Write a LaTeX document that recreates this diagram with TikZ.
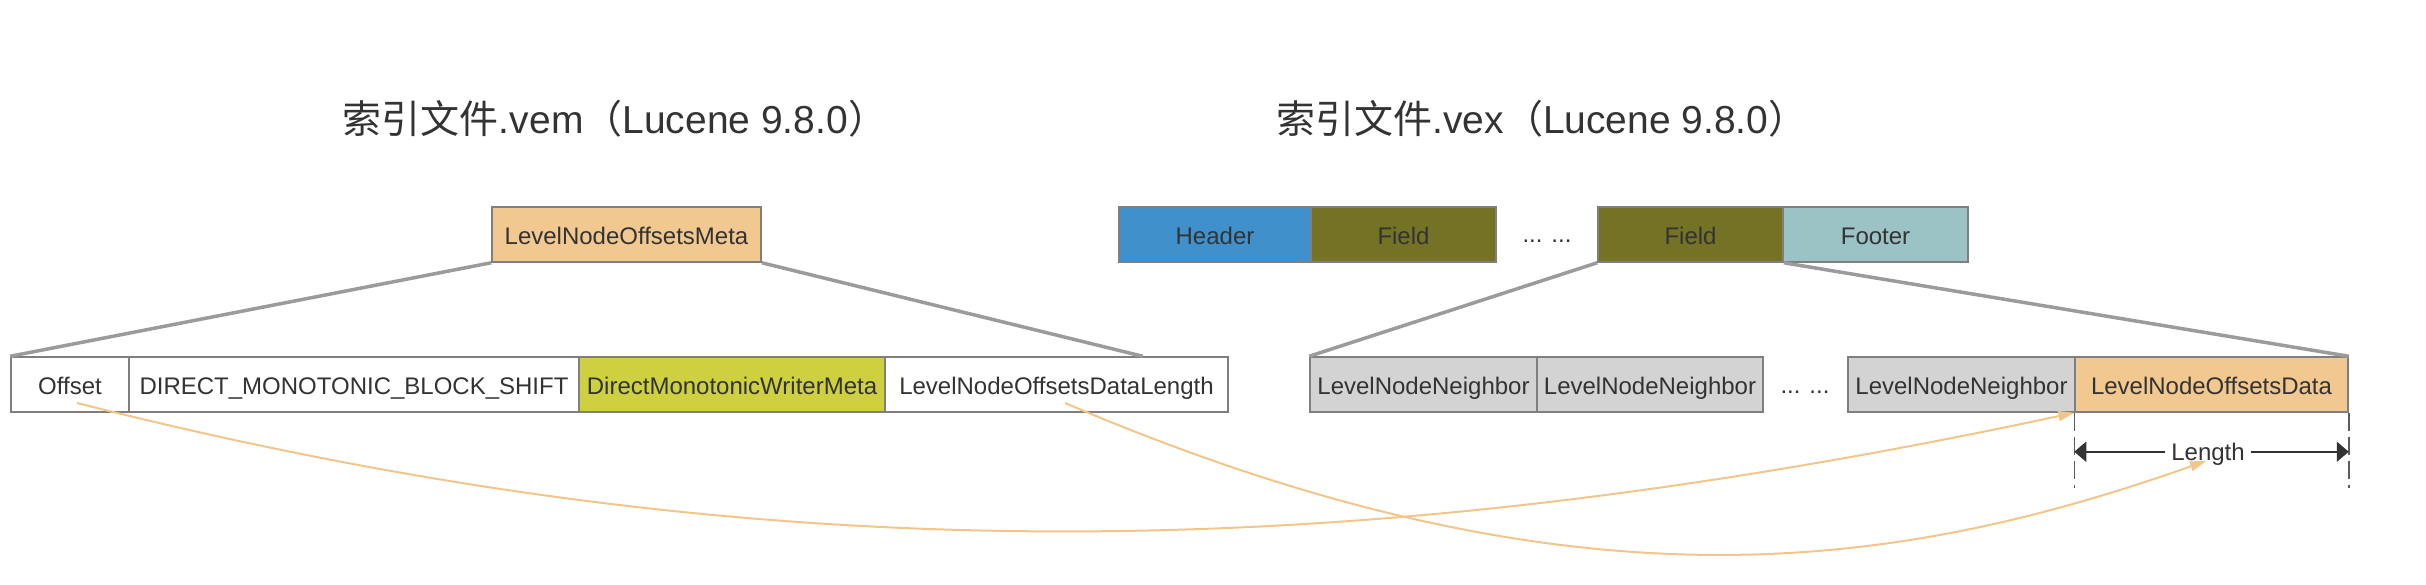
\documentclass[tikz,border=0pt]{standalone}
\usepackage{fontspec}
\setmainfont{Liberation Sans}
\newfontfamily\cjk{Noto Sans CJK SC}
\usetikzlibrary{arrows.meta,calc}
\definecolor{txt}{HTML}{333333}
\definecolor{bordergray}{HTML}{7F7F7F}
\definecolor{linkgray}{HTML}{9B9B9B}
\definecolor{orangefill}{RGB}{241,200,143}
\definecolor{limefill}{RGB}{206,208,64}
\definecolor{bluefill}{RGB}{64,144,203}
\definecolor{olivefill}{RGB}{115,114,37}
\definecolor{tealfill}{RGB}{155,195,197}
\definecolor{greyfill}{RGB}{211,211,211}
\definecolor{curveorange}{RGB}{242,198,139}
\begin{document}
\begin{tikzpicture}[x=1pt,y=-1pt,
  cell/.style={draw=bordergray,line width=1.5pt,inner sep=0pt,minimum height=55pt,
    text height=22pt,text depth=3pt,font=\fontsize{24}{28}\selectfont,text=txt},
  dotstext/.style={inner sep=0pt,anchor=base,font=\fontsize{24}{28}\selectfont,text=txt},
  titletext/.style={inner sep=0pt,anchor=base,font=\fontsize{39}{47}\selectfont,text=txt},
  zoomline/.style={draw=linkgray,line width=3.5pt},
  refcurve/.style={draw=curveorange,line width=2pt,-{Triangle[length=16pt,width=10pt]}},
  dimguide/.style={draw=txt!80,line width=1.5pt,dash pattern=on 18pt off 6pt},
  dimarrow/.style={draw=txt,line width=2pt,{Triangle[length=12pt,width=20pt]}-{Triangle[length=12pt,width=20pt]}}
]
\useasboundingbox (0,0) rectangle (2426,584);

% titles
\node[titletext] (titleA) at (615,133) {{\cjk 索引文件}.vem{\cjk （}Lucene 9.8.0{\cjk ）}};
\node[titletext] (titleB) at (1542,133) {{\cjk 索引文件}.vex{\cjk （}Lucene 9.8.0{\cjk ）}};

% top row
\node[cell,fill=orangefill,minimum width=269pt] (meta) at (626.5,234.5) {LevelNodeOffsetsMeta};
\node[cell,fill=bluefill,minimum width=192pt] (hdr) at (1215,234.5) {Header};
\node[cell,fill=olivefill,minimum width=185pt] (fldA) at (1403.5,234.5) {Field};
\node[dotstext] (dotsA) at (1547,242) {... ...};
\node[cell,fill=olivefill,minimum width=185pt] (fldB) at (1690.5,234.5) {Field};
\node[cell,fill=tealfill,minimum width=185pt] (ftr) at (1875.5,234.5) {Footer};

% bottom row
\node[cell,fill=white,minimum width=118pt] (off) at (70,384.5) {Offset};
\node[cell,fill=white,minimum width=450pt] (shift) at (354,384.5) {DIRECT\_MONOTONIC\_BLOCK\_SHIFT};
\node[cell,fill=limefill,minimum width=306pt] (dmwm) at (732,384.5) {DirectMonotonicWriterMeta};
\node[cell,fill=white,minimum width=343pt] (dlen) at (1056.5,384.5) {LevelNodeOffsetsDataLength};
\node[cell,fill=greyfill,minimum width=227pt] (lnnA) at (1423.5,384.5) {LevelNodeNeighbor};
\node[cell,fill=greyfill,minimum width=226pt] (lnnB) at (1650,384.5) {LevelNodeNeighbor};
\node[dotstext] (dotsB) at (1805,393) {... ...};
\node[cell,fill=greyfill,minimum width=227pt] (lnnC) at (1961.5,384.5) {LevelNodeNeighbor};
\node[cell,fill=orangefill,minimum width=273pt] (lnod) at (2211.5,384.5) {LevelNodeOffsetsData};

% zoom connectors
\coordinate (dlenTop) at ($(dlen.north west)!0.75!(dlen.north east)$);
\draw[zoomline] (meta.south west) -- (off.north west);
\draw[zoomline] (meta.south east) -- (dlenTop);
\draw[zoomline] (fldB.south west) -- (lnnA.north west);
\draw[zoomline] (fldB.south east) -- (lnod.north east);

% length dimension
\coordinate (guideL) at ($(lnod.south west)+(0,75)$);
\coordinate (guideR) at ($(lnod.south east)+(0,75)$);
\draw[dimguide] (lnod.south west) -- (guideL);
\draw[dimguide] (lnod.south east) -- (guideR);
\coordinate (dimA) at ($(lnod.south west)+(0,39)$);
\coordinate (dimB) at ($(lnod.south east)+(0,39)$);
\draw[dimarrow] (dimA) -- (dimB);
\node[fill=white,inner xsep=6pt,inner ysep=2pt,text height=22pt,text depth=3pt,
  font=\fontsize{24}{28}\selectfont,text=txt] (lenlbl) at (2208,451) {Length};

% reference curves
\coordinate (offRef) at (77,403);
\coordinate (dlenRef) at (1065,403);
\coordinate (lenTip) at (2206,461);
\draw[refcurve] (offRef) .. controls (745,572) and (1330,572) .. (lnod.south west);
\draw[refcurve] (dlenRef) .. controls (1573,620) and (1897,570) .. (lenTip);
\end{tikzpicture}
\end{document}
